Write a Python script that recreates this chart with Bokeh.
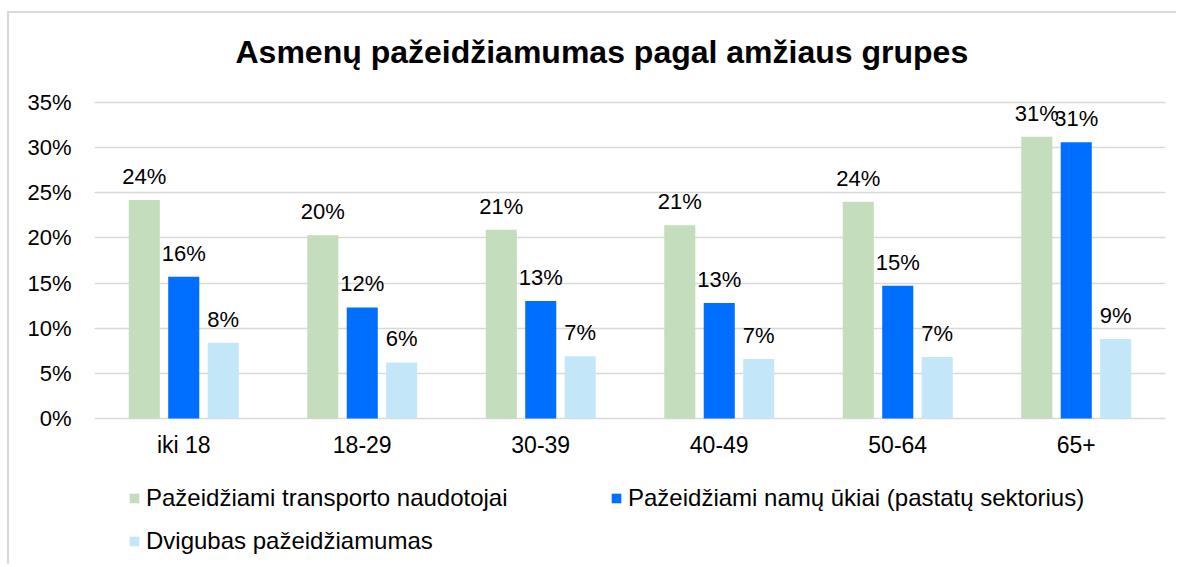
from bokeh.plotting import figure
from bokeh.models import (ColumnDataSource, FactorRange, Range1d, FixedTicker, PrintfTickFormatter,
                          LabelSet, Label, Legend, LegendItem)
from bokeh.core.properties import value
from bokeh.transform import dodge
from bokeh.embed import file_html
from bokeh.resources import INLINE

categories = ["iki 18", "18-29", "30-39", "40-49", "50-64", "65+"]
transport = [24.2, 20.3, 20.9, 21.4, 24.0, 31.2]
households = [15.7, 12.3, 13.0, 12.8, 14.7, 30.6]
double = [8.4, 6.2, 6.9, 6.6, 6.8, 8.8]
series_names = ["Pažeidžiami transporto naudotojai",
                "Pažeidžiami namų ūkiai (pastatų sektorius)",
                "Dvigubas pažeidžiamumas"]
colors = ["#C4DDBD", "#006EFF", "#C3E7F9"]
yticks = [0, 5, 10, 15, 20, 25, 30, 35]
title_text = "Asmenų pažeidžiamumas pagal amžiaus grupes"

FONT = "Liberation Sans"

src = ColumnDataSource(dict(
    cat=categories,
    zero=[0] * len(categories),
    t=transport, h=households, d=double,
    tl=[f"{round(v)}%" for v in transport],
    hl=[f"{round(v)}%" for v in households],
    dl=[f"{round(v)}%" for v in double],
))

# frame covers the whole chart area so the title, category labels and legend sit inside it
p = figure(x_range=FactorRange(*categories, range_padding=0), y_range=Range1d(-16.4, 44.86),
           width=1169, height=553, output_backend="svg", toolbar_location=None,
           min_border_left=85, min_border_right=13, min_border_top=0, min_border_bottom=0)
p.styles = {"border-top": "2px solid #d9d9d9", "border-left": "2px solid #d9d9d9",
            "margin-top": "11px", "margin-left": "7px"}

title = Label(x=0, y=max(yticks), x_offset=141, y_offset=51, text=title_text,
              text_align="left", text_baseline="alphabetic", text_font=FONT,
              text_font_size="32px", text_font_style="bold", text_color="#000000")
p.add_layout(title)

off = 0.221
bw = 0.174
keys = ["t", "h", "d"]
lkeys = ["tl", "hl", "dl"]
offsets = [-off, 0, off]
renderers = []
for k, lk, o, c in zip(keys, lkeys, offsets, colors):
    r = p.vbar(x=dodge("cat", o, range=p.x_range), top=k, width=bw, source=src,
               fill_color=c, line_color=None)
    renderers.append(r)
    labels = LabelSet(x=dodge("cat", o, range=p.x_range), y=k, text=lk, source=src,
                      text_align="center", text_baseline="alphabetic", y_offset=16,
                      text_font=value(FONT), text_font_size="22px", text_color="#000000")
    p.add_layout(labels)

cat_labels = LabelSet(x="cat", y="zero", text="cat", source=src, text_align="center",
                      text_baseline="alphabetic", y_offset=-35, text_font=value(FONT),
                      text_font_size="23px", text_color="#000000")
p.add_layout(cat_labels)

p.xaxis.visible = False

p.yaxis.ticker = FixedTicker(ticks=yticks)
p.yaxis.formatter = PrintfTickFormatter(format="%d%%")
p.yaxis.axis_line_color = None
p.yaxis.major_tick_line_color = None
p.yaxis.minor_tick_line_color = None
p.yaxis.major_label_standoff = 17
p.yaxis.major_label_text_font = FONT
p.yaxis.major_label_text_font_size = "22px"
p.yaxis.major_label_text_color = "#000000"

p.xgrid.grid_line_color = None
p.ygrid.grid_line_color = "#d9d9d9"
p.ygrid.grid_line_width = 1.5
p.outline_line_color = None

legend_pos = [(34, 54), (516, 54), (34, 11)]
for name, r, pos in zip(series_names, renderers, legend_pos):
    lg = Legend(items=[LegendItem(label=name, renderers=[r])], location=pos,
                glyph_width=12, glyph_height=12, label_standoff=6,
                label_text_font=FONT, label_text_font_size="24px", label_text_color="#000000",
                padding=0, margin=0, border_line_color=None, background_fill_alpha=0,
                spacing=0)
    p.add_layout(lg)

open("out.html", "w").write(file_html(p, INLINE))
